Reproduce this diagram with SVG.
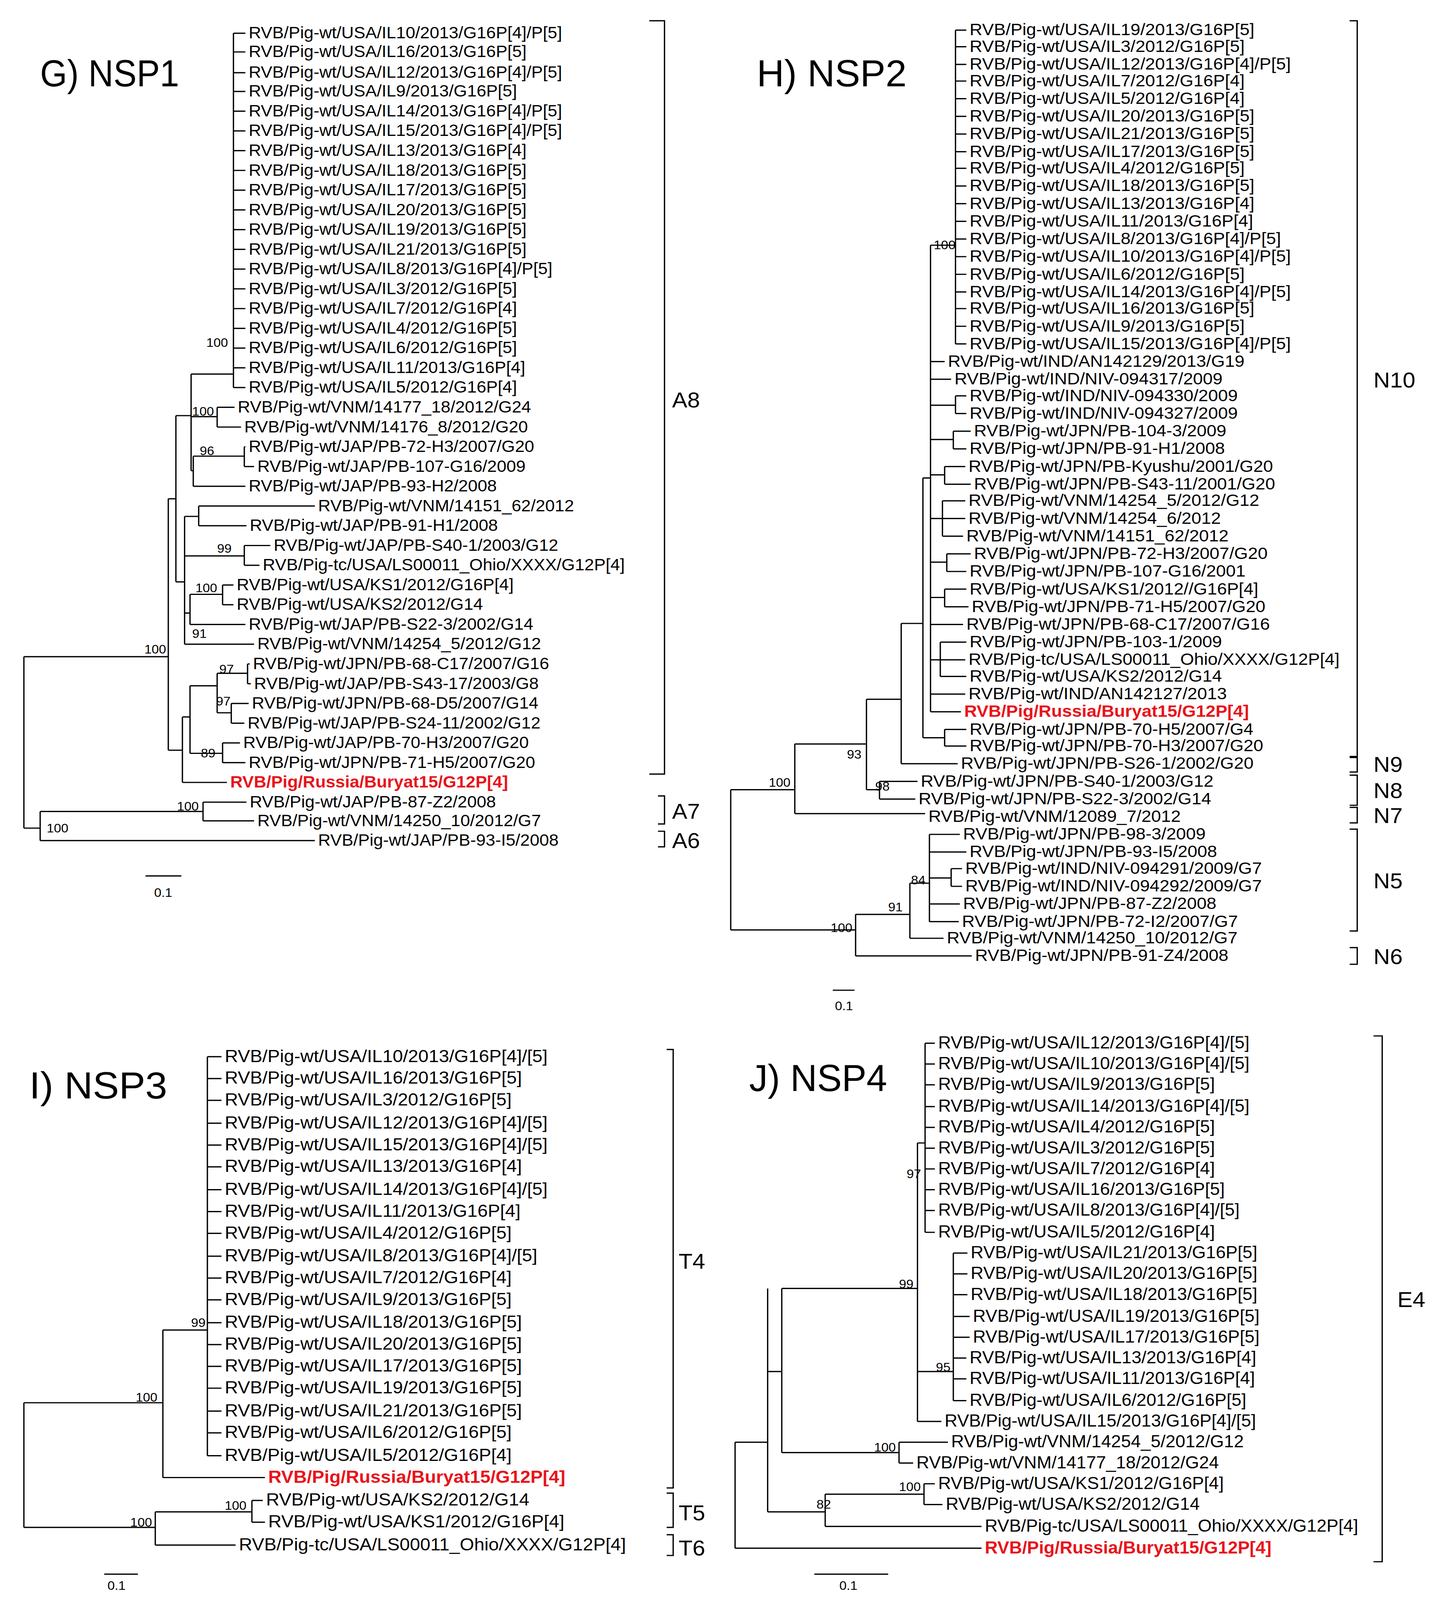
<svg xmlns="http://www.w3.org/2000/svg" width="3695" height="4364" viewBox="0 0 3695 4364">
<style>
text{font-family:"Liberation Sans",Arial,sans-serif;fill:#000}
.r{fill:#e8141b;font-weight:bold}
.b{font-size:12px}
.ti{font-size:36px}
.cl{font-size:21px}
.e{fill:none;stroke:#000;stroke-width:1.2}
</style>
<rect width="3695" height="4364" fill="#fff"/>
<g transform="scale(2.7803,2.66)">
<g id="panelG">
<text class="ti" x="37" y="83" textLength="128" lengthAdjust="spacingAndGlyphs">G) NSP1</text>
<g id="connectorsG"><path class="e" d="M215 32V373 M215 32H226 M215 50H226 M215 70H226 M215 88H226 M215 107H226 M215 126H226 M215 145H226 M215 164H226 M215 183H226 M215 202H226 M215 221H226 M215 240H226 M215 259H226 M215 278H226 M215 297H226 M215 316H226 M215 335H226 M215 354H226 M215 373H226
M176 360H215 M176 360V453 M200 392V411 M200 392H216 M200 411H222 M176 401H200 M178 439V468 M178 453H176 M225 430V449 M178 439H225 M225 430H226 M225 449H234 M178 468H226
M162 400V560 M162 400H176 M162 560H170 M170 497V620 M170 497H183 M183 487V506 M183 487H290 M183 506H227 M170 535H225 M225 525V544 M225 525H249 M225 544H239 M170 590H175 M175 572V601 M175 572H205 M205 563V582 M205 563H215 M205 582H215 M175 601H226 M170 620H234
M155 480V722 M155 480H162 M155 722H168 M168 690V753 M168 753H209 M168 690H175 M175 660V725 M175 660H200 M200 648V686 M200 648H228 M228 639V658 M228 639H230 M228 658H231 M200 686H213 M213 677V696 M213 677H229 M213 696H225 M175 725H205 M205 715V734 M205 715H221 M205 734H226
M22 632V797 M22 632H155 M22 797H37 M37 781V809 M37 781H187 M187 772V790 M187 772H227 M187 790H234 M37 809H290
M598 20H612V745H598 M606 766H612V793H606 M606 800H612V815H606 M134 843H167"/></g>
<g id="labelsG" style="font-size:15.9px">
<text x="229" y="37">RVB/Pig-wt/USA/IL10/2013/G16P[4]/P[5]</text>
<text x="229" y="55">RVB/Pig-wt/USA/IL16/2013/G16P[5]</text>
<text x="229" y="75">RVB/Pig-wt/USA/IL12/2013/G16P[4]/P[5]</text>
<text x="229" y="93">RVB/Pig-wt/USA/IL9/2013/G16P[5]</text>
<text x="229" y="112">RVB/Pig-wt/USA/IL14/2013/G16P[4]/P[5]</text>
<text x="229" y="131">RVB/Pig-wt/USA/IL15/2013/G16P[4]/P[5]</text>
<text x="229" y="150">RVB/Pig-wt/USA/IL13/2013/G16P[4]</text>
<text x="229" y="169">RVB/Pig-wt/USA/IL18/2013/G16P[5]</text>
<text x="229" y="188">RVB/Pig-wt/USA/IL17/2013/G16P[5]</text>
<text x="229" y="207">RVB/Pig-wt/USA/IL20/2013/G16P[5]</text>
<text x="229" y="226">RVB/Pig-wt/USA/IL19/2013/G16P[5]</text>
<text x="229" y="245">RVB/Pig-wt/USA/IL21/2013/G16P[5]</text>
<text x="229" y="264">RVB/Pig-wt/USA/IL8/2013/G16P[4]/P[5]</text>
<text x="229" y="283">RVB/Pig-wt/USA/IL3/2012/G16P[5]</text>
<text x="229" y="302">RVB/Pig-wt/USA/IL7/2012/G16P[4]</text>
<text x="229" y="321">RVB/Pig-wt/USA/IL4/2012/G16P[5]</text>
<text x="229" y="340">RVB/Pig-wt/USA/IL6/2012/G16P[5]</text>
<text x="229" y="359">RVB/Pig-wt/USA/IL11/2013/G16P[4]</text>
<text x="229" y="378">RVB/Pig-wt/USA/IL5/2012/G16P[4]</text>
<text x="219" y="397">RVB/Pig-wt/VNM/14177_18/2012/G24</text>
<text x="225" y="416">RVB/Pig-wt/VNM/14176_8/2012/G20</text>
<text x="229" y="435">RVB/Pig-wt/JAP/PB-72-H3/2007/G20</text>
<text x="237" y="454">RVB/Pig-wt/JAP/PB-107-G16/2009</text>
<text x="229" y="473">RVB/Pig-wt/JAP/PB-93-H2/2008</text>
<text x="293" y="492">RVB/Pig-wt/VNM/14151_62/2012</text>
<text x="230" y="511">RVB/Pig-wt/JAP/PB-91-H1/2008</text>
<text x="252" y="530">RVB/Pig-wt/JAP/PB-S40-1/2003/G12</text>
<text x="242" y="549">RVB/Pig-tc/USA/LS00011_Ohio/XXXX/G12P[4]</text>
<text x="218" y="568">RVB/Pig-wt/USA/KS1/2012/G16P[4]</text>
<text x="218" y="587">RVB/Pig-wt/USA/KS2/2012/G14</text>
<text x="229" y="606">RVB/Pig-wt/JAP/PB-S22-3/2002/G14</text>
<text x="237" y="625">RVB/Pig-wt/VNM/14254_5/2012/G12</text>
<text x="233" y="644">RVB/Pig-wt/JPN/PB-68-C17/2007/G16</text>
<text x="234" y="663">RVB/Pig-wt/JAP/PB-S43-17/2003/G8</text>
<text x="232" y="682">RVB/Pig-wt/JPN/PB-68-D5/2007/G14</text>
<text x="228" y="701">RVB/Pig-wt/JAP/PB-S24-11/2002/G12</text>
<text x="224" y="720">RVB/Pig-wt/JAP/PB-70-H3/2007/G20</text>
<text x="229" y="739">RVB/Pig-wt/JPN/PB-71-H5/2007/G20</text>
<text class="r" x="212" y="758">RVB/Pig/Russia/Buryat15/G12P[4]</text>
<text x="230" y="777">RVB/Pig-wt/JAP/PB-87-Z2/2008</text>
<text x="237" y="795">RVB/Pig-wt/VNM/14250_10/2012/G7</text>
<text x="293" y="814">RVB/Pig-wt/JAP/PB-93-I5/2008</text>
<text class="b" x="190" y="334">100</text><text class="b" x="177" y="400">100</text><text class="b" x="184" y="438">96</text><text class="b" x="200" y="532">99</text><text class="b" x="180" y="570">100</text><text class="b" x="177" y="614">91</text><text class="b" x="133" y="629">100</text><text class="b" x="202" y="648">97</text><text class="b" x="199" y="679">97</text><text class="b" x="185" y="729">89</text><text class="b" x="163" y="780">100</text><text class="b" x="43" y="801">100</text>
<text class="cl" x="619" y="392">A8</text><text class="cl" x="619" y="788">A7</text><text class="cl" x="619" y="816">A6</text>
<text class="b" x="142" y="863">0.1</text>
</g></g>

<g id="panelH">
<text class="ti" x="697" y="83" textLength="138" lengthAdjust="spacingAndGlyphs">H) NSP2</text>
<g id="connectorsH"><path class="e" d="M880 29V331 M880 29H890 M880 45H890 M880 62H890 M880 78H890 M880 95H890 M880 112H890 M880 129H890 M880 146H890 M880 162H890 M880 179H890 M880 196H890 M880 213H890 M880 230H890 M880 247H890 M880 264H890 M880 281H890 M880 297H890 M880 314H890 M880 331H890
M857 236V685 M857 236H880 M857 348H870 M857 365H876 M857 390H880 M880 381V398 M880 381H890 M880 398H890 M857 423H878 M878 415V432 M878 415H894 M878 432H890 M857 457H870 M870 449V466 M870 449H889 M870 466H894 M857 499H868 M868 482V516 M868 482H889 M868 499H889 M868 516H887 M857 541H872 M872 533V550 M872 533H894 M872 550H890 M857 575H870 M870 567V584 M870 567H890 M870 584H892 M857 601H887 M857 635H866 M866 618V651 M866 618H890 M866 635H889 M866 651H890 M857 668H889 M857 685H885
M850 460V710 M850 460H857 M850 710H870 M870 702V718 M870 702H890 M870 718H890 M830 600V735 M830 600H850 M830 735H882 M798 673V760 M798 673H830 M798 760H810 M810 752V769 M810 752H845 M810 769H843 M732 716V783 M732 716H798 M732 783H852 M673 760V895 M673 760H732 M673 895H788 M788 880V920 M788 920H895 M788 880H838 M838 850V903 M838 903H869 M838 850H856 M856 803V887 M856 803H884 M856 820H890 M856 845H876 M876 836V853 M876 836H886 M876 853H886 M856 870H884 M856 887H883
M1243 20H1250V728H1243 M1243 729H1250V743H1243 M1243 746H1250V775H1243 M1243 777H1250V792H1243 M1243 798H1250V896H1243 M1243 912H1250V928H1243 M767 953H787"/></g>
<g id="labelsH" style="font-size:16.3px">
<text x="893" y="34">RVB/Pig-wt/USA/IL19/2013/G16P[5]</text>
<text x="893" y="50">RVB/Pig-wt/USA/IL3/2012/G16P[5]</text>
<text x="893" y="67">RVB/Pig-wt/USA/IL12/2013/G16P[4]/P[5]</text>
<text x="893" y="83">RVB/Pig-wt/USA/IL7/2012/G16P[4]</text>
<text x="893" y="100">RVB/Pig-wt/USA/IL5/2012/G16P[4]</text>
<text x="893" y="117">RVB/Pig-wt/USA/IL20/2013/G16P[5]</text>
<text x="893" y="134">RVB/Pig-wt/USA/IL21/2013/G16P[5]</text>
<text x="893" y="151">RVB/Pig-wt/USA/IL17/2013/G16P[5]</text>
<text x="893" y="167">RVB/Pig-wt/USA/IL4/2012/G16P[5]</text>
<text x="893" y="184">RVB/Pig-wt/USA/IL18/2013/G16P[5]</text>
<text x="893" y="201">RVB/Pig-wt/USA/IL13/2013/G16P[4]</text>
<text x="893" y="218">RVB/Pig-wt/USA/IL11/2013/G16P[4]</text>
<text x="893" y="235">RVB/Pig-wt/USA/IL8/2013/G16P[4]/P[5]</text>
<text x="893" y="252">RVB/Pig-wt/USA/IL10/2013/G16P[4]/P[5]</text>
<text x="893" y="269">RVB/Pig-wt/USA/IL6/2012/G16P[5]</text>
<text x="893" y="286">RVB/Pig-wt/USA/IL14/2013/G16P[4]/P[5]</text>
<text x="893" y="302">RVB/Pig-wt/USA/IL16/2013/G16P[5]</text>
<text x="893" y="319">RVB/Pig-wt/USA/IL9/2013/G16P[5]</text>
<text x="893" y="336">RVB/Pig-wt/USA/IL15/2013/G16P[4]/P[5]</text>
<text x="873" y="353">RVB/Pig-wt/IND/AN142129/2013/G19</text>
<text x="879" y="370">RVB/Pig-wt/IND/NIV-094317/2009</text>
<text x="893" y="386">RVB/Pig-wt/IND/NIV-094330/2009</text>
<text x="893" y="403">RVB/Pig-wt/IND/NIV-094327/2009</text>
<text x="897" y="420">RVB/Pig-wt/JPN/PB-104-3/2009</text>
<text x="893" y="437">RVB/Pig-wt/JPN/PB-91-H1/2008</text>
<text x="892" y="454">RVB/Pig-wt/JPN/PB-Kyushu/2001/G20</text>
<text x="897" y="471">RVB/Pig-wt/JPN/PB-S43-11/2001/G20</text>
<text x="892" y="487">RVB/Pig-wt/VNM/14254_5/2012/G12</text>
<text x="892" y="504">RVB/Pig-wt/VNM/14254_6/2012</text>
<text x="890" y="521">RVB/Pig-wt/VNM/14151_62/2012</text>
<text x="897" y="538">RVB/Pig-wt/JPN/PB-72-H3/2007/G20</text>
<text x="893" y="555">RVB/Pig-wt/JPN/PB-107-G16/2001</text>
<text x="893" y="572">RVB/Pig-wt/USA/KS1/2012//G16P[4]</text>
<text x="895" y="589">RVB/Pig-wt/JPN/PB-71-H5/2007/G20</text>
<text x="890" y="606">RVB/Pig-wt/JPN/PB-68-C17/2007/G16</text>
<text x="893" y="623">RVB/Pig-wt/JPN/PB-103-1/2009</text>
<text x="892" y="640">RVB/Pig-tc/USA/LS00011_Ohio/XXXX/G12P[4]</text>
<text x="893" y="656">RVB/Pig-wt/USA/KS2/2012/G14</text>
<text x="892" y="673">RVB/Pig-wt/IND/AN142127/2013</text>
<text class="r" x="888" y="690">RVB/Pig/Russia/Buryat15/G12P[4]</text>
<text x="893" y="707">RVB/Pig-wt/JPN/PB-70-H5/2007/G4</text>
<text x="893" y="723">RVB/Pig-wt/JPN/PB-70-H3/2007/G20</text>
<text x="885" y="740">RVB/Pig-wt/JPN/PB-S26-1/2002/G20</text>
<text x="848" y="757">RVB/Pig-wt/JPN/PB-S40-1/2003/G12</text>
<text x="846" y="774">RVB/Pig-wt/JPN/PB-S22-3/2002/G14</text>
<text x="855" y="791">RVB/Pig-wt/VNM/12089_7/2012</text>
<text x="887" y="808">RVB/Pig-wt/JPN/PB-98-3/2009</text>
<text x="893" y="825">RVB/Pig-wt/JPN/PB-93-I5/2008</text>
<text x="889" y="841">RVB/Pig-wt/IND/NIV-094291/2009/G7</text>
<text x="889" y="858">RVB/Pig-wt/IND/NIV-094292/2009/G7</text>
<text x="887" y="875">RVB/Pig-wt/JPN/PB-87-Z2/2008</text>
<text x="886" y="892">RVB/Pig-wt/JPN/PB-72-I2/2007/G7</text>
<text x="872" y="908">RVB/Pig-wt/VNM/14250_10/2012/G7</text>
<text x="898" y="925">RVB/Pig-wt/JPN/PB-91-Z4/2008</text>
<text class="b" x="860" y="240">100</text><text class="b" x="780" y="730">93</text><text class="b" x="806" y="761">98</text><text class="b" x="708" y="757">100</text><text class="b" x="839" y="851">84</text><text class="b" x="818" y="877">91</text><text class="b" x="765" y="897">100</text>
<text class="cl" x="1265" y="373">N10</text><text class="cl" x="1265" y="743">N9</text><text class="cl" x="1265" y="768">N8</text><text class="cl" x="1265" y="792">N7</text><text class="cl" x="1265" y="855">N5</text><text class="cl" x="1265" y="928">N6</text>
<text class="b" x="769" y="972">0.1</text>
</g></g>

<g id="panelI">
<text class="ti" x="27" y="1057" textLength="127" lengthAdjust="spacingAndGlyphs">I) NSP3</text>
<g id="connectorsI"><path class="e" d="M191 1017V1401 M191 1017H204 M191 1038H204 M191 1059H204 M191 1081H204 M191 1102H204 M191 1123H204 M191 1145H204 M191 1166H204 M191 1187H204 M191 1209H204 M191 1230H204 M191 1251H204 M191 1273H204 M191 1294H204 M191 1315H204 M191 1336H204 M191 1358H204 M191 1379H204 M191 1401H204
M150 1280V1422 M150 1280H191 M150 1422H244 M22 1350V1470 M22 1350H150 M22 1470H143 M143 1455V1487 M143 1455H232 M232 1444V1465 M232 1444H242 M232 1465H244 M143 1487H217
M614 1010H620V1432H614 M614 1437H620V1470H614 M614 1477H620V1497H614 M96 1515H127"/></g>
<g id="labelsI" style="font-size:17px">
<text x="207" y="1022">RVB/Pig-wt/USA/IL10/2013/G16P[4]/[5]</text>
<text x="207" y="1043">RVB/Pig-wt/USA/IL16/2013/G16P[5]</text>
<text x="207" y="1064">RVB/Pig-wt/USA/IL3/2012/G16P[5]</text>
<text x="207" y="1086">RVB/Pig-wt/USA/IL12/2013/G16P[4]/[5]</text>
<text x="207" y="1107">RVB/Pig-wt/USA/IL15/2013/G16P[4]/[5]</text>
<text x="207" y="1128">RVB/Pig-wt/USA/IL13/2013/G16P[4]</text>
<text x="207" y="1150">RVB/Pig-wt/USA/IL14/2013/G16P[4]/[5]</text>
<text x="207" y="1171">RVB/Pig-wt/USA/IL11/2013/G16P[4]</text>
<text x="207" y="1192">RVB/Pig-wt/USA/IL4/2012/G16P[5]</text>
<text x="207" y="1214">RVB/Pig-wt/USA/IL8/2013/G16P[4]/[5]</text>
<text x="207" y="1235">RVB/Pig-wt/USA/IL7/2012/G16P[4]</text>
<text x="207" y="1256">RVB/Pig-wt/USA/IL9/2013/G16P[5]</text>
<text x="207" y="1278">RVB/Pig-wt/USA/IL18/2013/G16P[5]</text>
<text x="207" y="1299">RVB/Pig-wt/USA/IL20/2013/G16P[5]</text>
<text x="207" y="1320">RVB/Pig-wt/USA/IL17/2013/G16P[5]</text>
<text x="207" y="1341">RVB/Pig-wt/USA/IL19/2013/G16P[5]</text>
<text x="207" y="1363">RVB/Pig-wt/USA/IL21/2013/G16P[5]</text>
<text x="207" y="1384">RVB/Pig-wt/USA/IL6/2012/G16P[5]</text>
<text x="207" y="1406">RVB/Pig-wt/USA/IL5/2012/G16P[4]</text>
<text class="r" x="247" y="1427">RVB/Pig/Russia/Buryat15/G12P[4]</text>
<text x="245" y="1449">RVB/Pig-wt/USA/KS2/2012/G14</text>
<text x="247" y="1470">RVB/Pig-wt/USA/KS1/2012/G16P[4]</text>
<text x="220" y="1492">RVB/Pig-tc/USA/LS00011_Ohio/XXXX/G12P[4]</text>
<text class="b" x="176" y="1277">99</text><text class="b" x="125" y="1349">100</text><text class="b" x="207" y="1453">100</text><text class="b" x="120" y="1469">100</text>
<text class="cl" x="625" y="1221">T4</text><text class="cl" x="625" y="1463">T5</text><text class="cl" x="625" y="1497">T6</text>
<text class="b" x="99" y="1530">0.1</text>
</g></g>

<g id="panelJ">
<text class="ti" x="690" y="1050" textLength="127" lengthAdjust="spacingAndGlyphs">J) NSP4</text>
<g id="connectorsJ"><path class="e" d="M852 1004V1186 M852 1004H861 M852 1024H861 M852 1044H861 M852 1065H861 M852 1085H861 M852 1105H861 M852 1125H861 M852 1145H861 M852 1165H861 M852 1186H861
M878 1206V1348 M878 1206H891 M878 1226H891 M878 1246H891 M878 1267H893 M878 1287H893 M878 1307H890 M878 1327H890 M878 1348H890 M845 1100V1368 M845 1100H852 M845 1320H878 M845 1368H867
M720 1240V1398 M720 1240H845 M720 1398H828 M828 1388V1408 M828 1388H873 M828 1408H841 M707 1240V1455 M707 1320H720 M707 1455H760 M760 1438V1469 M760 1469H904 M760 1438H851 M851 1428V1448 M851 1428H861 M851 1448H868 M677 1388V1490 M677 1388H707 M677 1490H904
M1265 997H1273V1503H1265 M750 1515H818"/></g>
<g id="labelsJ" style="font-size:16.4px">
<text x="864" y="1009">RVB/Pig-wt/USA/IL12/2013/G16P[4]/[5]</text>
<text x="864" y="1029">RVB/Pig-wt/USA/IL10/2013/G16P[4]/[5]</text>
<text x="864" y="1049">RVB/Pig-wt/USA/IL9/2013/G16P[5]</text>
<text x="864" y="1070">RVB/Pig-wt/USA/IL14/2013/G16P[4]/[5]</text>
<text x="864" y="1090">RVB/Pig-wt/USA/IL4/2012/G16P[5]</text>
<text x="864" y="1110">RVB/Pig-wt/USA/IL3/2012/G16P[5]</text>
<text x="864" y="1130">RVB/Pig-wt/USA/IL7/2012/G16P[4]</text>
<text x="864" y="1150">RVB/Pig-wt/USA/IL16/2013/G16P[5]</text>
<text x="864" y="1170">RVB/Pig-wt/USA/IL8/2013/G16P[4]/[5]</text>
<text x="864" y="1191">RVB/Pig-wt/USA/IL5/2012/G16P[4]</text>
<text x="894" y="1211">RVB/Pig-wt/USA/IL21/2013/G16P[5]</text>
<text x="894" y="1231">RVB/Pig-wt/USA/IL20/2013/G16P[5]</text>
<text x="894" y="1251">RVB/Pig-wt/USA/IL18/2013/G16P[5]</text>
<text x="896" y="1272">RVB/Pig-wt/USA/IL19/2013/G16P[5]</text>
<text x="896" y="1292">RVB/Pig-wt/USA/IL17/2013/G16P[5]</text>
<text x="893" y="1312">RVB/Pig-wt/USA/IL13/2013/G16P[4]</text>
<text x="893" y="1332">RVB/Pig-wt/USA/IL11/2013/G16P[4]</text>
<text x="893" y="1353">RVB/Pig-wt/USA/IL6/2012/G16P[5]</text>
<text x="870" y="1373">RVB/Pig-wt/USA/IL15/2013/G16P[4]/[5]</text>
<text x="876" y="1393">RVB/Pig-wt/VNM/14254_5/2012/G12</text>
<text x="844" y="1413">RVB/Pig-wt/VNM/14177_18/2012/G24</text>
<text x="864" y="1433">RVB/Pig-wt/USA/KS1/2012/G16P[4]</text>
<text x="871" y="1453">RVB/Pig-wt/USA/KS2/2012/G14</text>
<text x="907" y="1474">RVB/Pig-tc/USA/LS00011_Ohio/XXXX/G12P[4]</text>
<text class="r" x="907" y="1495">RVB/Pig/Russia/Buryat15/G12P[4]</text>
<text class="b" x="835" y="1134">97</text><text class="b" x="828" y="1240">99</text><text class="b" x="862" y="1320">95</text><text class="b" x="805" y="1397">100</text><text class="b" x="828" y="1435">100</text><text class="b" x="752" y="1452">82</text>
<text class="cl" x="1287" y="1258">E4</text>
<text class="b" x="773" y="1530">0.1</text>
</g></g>
</g>
</svg>
